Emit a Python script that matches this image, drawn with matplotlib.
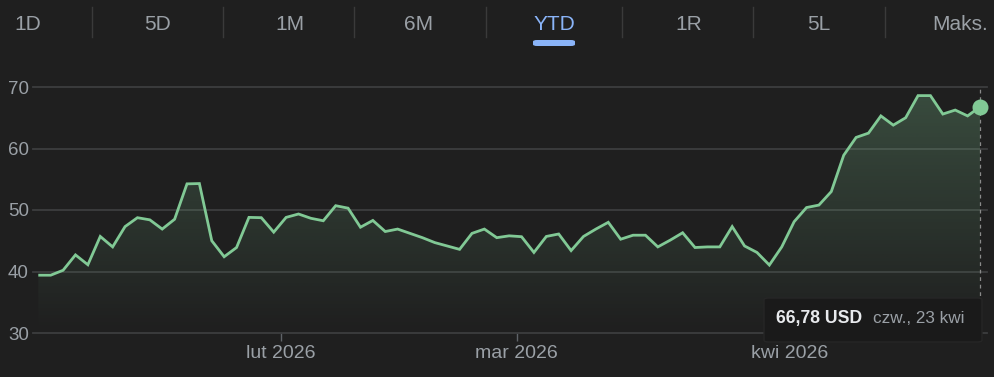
import numpy as np
import pandas as pd
import matplotlib
matplotlib.use("Agg")
import matplotlib.pyplot as plt
from matplotlib.patches import FancyBboxPatch, Polygon
from matplotlib.colors import to_rgb

plt.rcParams['font.family'] = ['Liberation Sans', 'DejaVu Sans']

# ---------------- data ----------------
holidays = ['2026-01-19', '2026-02-16', '2026-04-03']
dates = pd.bdate_range('2026-01-02', '2026-04-23')
dates = dates[~dates.isin(pd.to_datetime(holidays))]

prices = [39.4, 39.4, 40.2, 42.7, 41.1, 45.7, 44.0, 47.3, 48.75, 48.4,
          46.9, 48.5, 54.25, 54.3, 45.0, 42.4, 43.9, 48.8, 48.75, 46.4,
          48.8, 49.35, 48.65, 48.25, 50.7, 50.3, 47.2, 48.3, 46.5, 46.9,
          46.2, 45.5, 44.7, 44.15, 43.6, 46.2, 46.9, 45.5, 45.8, 45.66,
          43.1, 45.7, 46.1, 43.4, 45.7, 46.9, 48.0, 45.25, 45.9, 45.9,
          44.0, 45.1, 46.3, 43.9, 44.0, 44.0, 47.3, 44.15, 43.1, 41.05,
          44.0, 48.1, 50.4, 50.8, 53.0, 58.9, 61.8, 62.5, 65.3, 63.8,
          65.0, 68.6, 68.6, 65.6, 66.25, 65.3, 66.78]

y_ticks = [30, 40, 50, 60, 70]
month_names = {2: 'lut', 3: 'mar', 4: 'kwi'}
tabs = ['1D', '5D', '1M', '6M', 'YTD', '1R', '5L', 'Maks.']
active_tab = 'YTD'
tooltip_date = 'czw., 23 kwi'
currency = 'USD'

# ---------------- style ----------------
BG = '#1f1f1f'
GREEN = '#81c995'
GRID = '#3c3d3f'
GRAY = '#9aa0a6'
BLUE = '#8ab4f8'

W, H = 994, 377
fig = plt.figure(figsize=(W / 100, H / 100), dpi=100, facecolor=BG)

def fx(x):
    return x / W

def fy(y):
    return 1 - y / H

# axes rect in pixel terms
L, R, T, B = 33, 987, 87, 333
ax = fig.add_axes([fx(L), fy(B), (R - L) / W, (B - T) / H])
ax.set_facecolor(BG)

x = np.arange(len(prices))
y = np.array(prices)

ax.set_xlim(-0.428, len(prices) - 1 + 0.565)
ax.set_ylim(30, 70)

# gradient fill under the line
rgb = to_rgb(GREEN)
ny = 256
alpha = np.linspace(0.0, 0.27, ny) ** 1.0
img = np.zeros((ny, 2, 4))
img[..., 0] = rgb[0]
img[..., 1] = rgb[1]
img[..., 2] = rgb[2]
img[..., 3] = alpha[:, None]
xmin, xmax = ax.get_xlim()
im = ax.imshow(img, extent=[xmin, xmax, 30, 70], origin='lower',
               aspect='auto', zorder=1, interpolation='bilinear')
poly_xy = np.column_stack([np.r_[x[0], x, x[-1]], np.r_[30, y, 30]])
poly = Polygon(poly_xy, closed=True, facecolor='none', edgecolor='none')
ax.add_patch(poly)
im.set_clip_path(poly)

# line
ax.plot(x, y, color=GREEN, lw=2.0, zorder=3, solid_joinstyle='miter',
        solid_capstyle='butt')
ax.plot(x[-1], y[-1], 'o', color=GREEN, ms=11.5, zorder=4, clip_on=False,
        markeredgewidth=0)
ax.axvline(x[-1], color='#8a8a8a', lw=0.9, ls=(0, (3, 3)), zorder=2,
           ymin=0, ymax=1, clip_on=False)

# grid
ax.set_yticks(y_ticks)
ax.yaxis.grid(True, color=GRID, lw=1.3)
for gl in ax.get_ygridlines():
    gl.set_clip_on(False)
ax.set_axisbelow(True)
ax.tick_params(axis='y', length=0, pad=3, labelsize=13.5, labelcolor=GRAY)

# month ticks
month_idx = []
month_lab = []
for m, name in month_names.items():
    i = int(np.argmax(dates.month == m))
    month_idx.append(i - 0.4)
    month_lab.append(f'{name} {dates[i].year}')
ax.set_xticks(month_idx)
ax.set_xticklabels(month_lab)
ax.tick_params(axis='x', length=6, width=1, color='#5f6368', pad=3,
               labelsize=14, labelcolor=GRAY)

for s in ax.spines.values():
    s.set_visible(False)

# ---------------- tabs ----------------
tab_centers = [27.5, 158, 289.5, 419, 554, 689, 818.5, 960]
seps = [92, 223, 354, 486, 622, 753, 885]
for t, cx in zip(tabs, tab_centers):
    fig.text(fx(cx), fy(24.5), t, ha='center', va='center', fontsize=15,
             color=BLUE if t == active_tab else GRAY)
for sx in seps:
    fig.add_artist(plt.Line2D([fx(sx), fx(sx)], [fy(7), fy(37)],
                              color='#3a3a3a', lw=1))
ia = tabs.index(active_tab)
ul = FancyBboxPatch((fx(533), fy(46)), fx(575) - fx(533), fy(40) - fy(46),
                    boxstyle='round,pad=0,rounding_size=0.004',
                    transform=fig.transFigure, facecolor=BLUE,
                    edgecolor='none')
fig.add_artist(ul)

# ---------------- tooltip ----------------
box = FancyBboxPatch((fx(764), fy(342)), fx(982) - fx(764), fy(298) - fy(342),
                     boxstyle='round,pad=0,rounding_size=0.005',
                     transform=fig.transFigure, facecolor='#1a1a1a',
                     edgecolor='#262626', lw=1, zorder=10)
fig.add_artist(box)
price_txt = f'{prices[-1]:.2f}'.replace('.', ',') + f' {currency}'
fig.text(fx(776), fy(318.5), price_txt, ha='left', va='center',
         fontsize=12.7, fontweight='bold', color='#e8eaed', zorder=11)
fig.text(fx(873), fy(318.5), tooltip_date, ha='left', va='center',
         fontsize=12.3, color=GRAY, zorder=11)

fig.savefig('out.png', dpi=100, facecolor=BG)
